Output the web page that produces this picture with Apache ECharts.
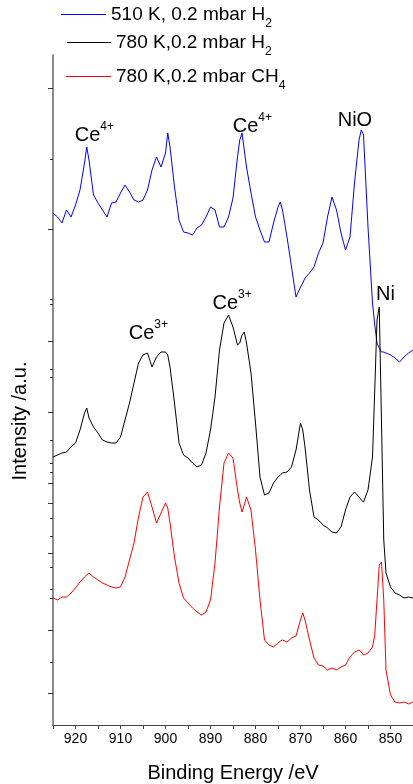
<!DOCTYPE html>
<html>
<head>
<meta charset="utf-8">
<title>XPS Ce 3d / Ni 2p</title>
<script src="https://cdn.jsdelivr.net/npm/echarts@6/dist/echarts.min.js"></script>
<style>
  html, body { margin: 0; padding: 0; background: #fff; }
  #chart { width: 413px; height: 784px; }
</style>
</head>
<body>
<div id="chart"></div>
<script>
  // binding energy /eV (shared by the three spectra)
  var energy = [925, 924, 923, 922, 921, 920, 919, 918, 917.5,
    917, 916, 915, 914, 913, 912, 911, 910, 909, 908, 907, 906, 905, 904, 903, 902, 901, 900, 899.5,
    899, 898, 897, 896, 895, 894, 893, 892, 891, 890, 889, 888, 887, 886, 885, 884, 883.5, 883, 882.5,
    882, 881, 880, 879, 878, 877, 876, 875, 874.5, 874, 873, 872, 871, 870, 869.5,
    869, 868, 867, 866, 865, 864, 863, 862, 861, 860, 859, 858, 857, 856.5, 856, 855, 854,
    853.5, 853, 852.5, 852, 851.5, 851, 850, 849, 848, 847, 846, 845]

  // intensity (a.u., already offset like in the figure)
  var blue510H2 = [512, 508, 502, 515, 508, 520, 535, 562, 578,
    565, 530, 522, 515, 508, 522, 523, 532, 540, 533, 525, 523, 525, 535, 555, 568, 558, 572, 592,
    578, 538, 505, 493, 492, 490, 497, 500, 508, 518, 515, 498, 498, 508, 527, 568, 585, 592, 575,
    558, 532, 508, 495, 483, 483, 502, 518, 523, 515, 488, 458, 428, 438, 442,
    447, 452, 458, 472, 482, 508, 528, 515, 492, 475, 488, 542, 585, 595, 590, 498, 422,
    400, 382, 377, 373, 373, 372, 370, 367, 363, 368, 372, 375]

  var black780H2 = [268, 270, 272, 273, 278, 282, 295, 312, 317,
    307, 298, 292, 285, 283, 282, 282, 288, 305, 322, 342, 362, 370, 372, 358, 368, 373, 373, 370,
    358, 322, 282, 270, 267, 262, 258, 260, 272, 295, 328, 375, 402, 410, 398, 380, 382, 390, 393,
    382, 352, 302, 248, 230, 232, 242, 248, 250, 252, 253, 258, 275, 302, 295,
    278, 235, 208, 205, 200, 197, 193, 192, 198, 215, 228, 233, 228, 225, 223, 235, 268,
    335, 405, 418, 302, 185, 152, 138, 132, 130, 127, 128, 127]

  var red780CH4 = [127, 125, 128, 128, 132, 137, 143, 148, 150,
    152, 148, 145, 142, 140, 138, 137, 138, 148, 165, 182, 208, 228, 233, 218, 202, 212, 222, 217,
    202, 168, 142, 127, 122, 117, 113, 110, 113, 125, 162, 218, 262, 272, 267, 235, 222, 213, 220,
    228, 215, 175, 125, 85, 80, 78, 82, 84, 85, 83, 87, 89, 105, 112,
    105, 85, 67, 60, 59, 55, 57, 55, 58, 60, 68, 73, 75, 73, 70, 72, 78,
    90, 125, 160, 163, 125, 55, 30, 23, 22, 23, 21, 23]

  var xLabels = [920, 910, 900, 890, 880, 870, 860, 850]
  // the left axis of the original is several stacked layers, ticks are irregular
  var yTicksLong = [637, 496, 384, 313, 242, 222, 172, 95, 32]
  var yTicksShort = [566, 426, 421, 356, 348, 285, 262, 253, 207, 189, 158, 136, 127, 63]

  // peak annotations
  var blueMarks = [['{b|Ce}{p|4+}', 915.8, 590], ['{b|Ce}{p|4+}', 880.7, 599], ['{b|NiO}', 857.9, 605]]
  var blackMarks = [['{b|Ce}{p|3+}', 903.8, 392], ['{b|Ce}{p|3+}', 885.2, 422], ['{b|Ni}', 851.1, 431]]

  var FONT = '"Liberation Sans", Arial, sans-serif'

  function pairs(ys) {
    return energy.map(function (e, i) { return [e, ys[i]] })
  }

  function marks(list) {
    return {
      symbol: 'circle',
      symbolSize: 1,
      itemStyle: {color: 'rgba(0,0,0,0)'},
      silent: true,
      label: {
        show: true, position: 'inside', color: '#000',
        rich: {
          b: {fontSize: 20, fontFamily: FONT, color: '#000'},
          p: {fontSize: 12, fontFamily: FONT, color: '#000', padding: [0, 0, 16, 0]}
        }
      },
      data: list.map(function (m) {
        return {coord: [m[1], m[2]], label: {formatter: m[0]}}
      })
    }
  }

  var legendRich = {
    t: {fontSize: 19, fontFamily: FONT, color: '#000'},
    s: {fontSize: 12, fontFamily: FONT, color: '#000', padding: [18, 0, 0, 0]}
  }

  function legend(name, text, left, top, w) {
    return {
      data: [{name: name, icon: 'rect'}], left: left, top: top, padding: 0,
      itemWidth: w, itemHeight: 1.2, itemGap: 0,
      selectedMode: false,
      formatter: function () { return text },
      textStyle: {rich: legendRich}
    }
  }

  var chart = echarts.init(document.getElementById('chart'))
  chart.setOption({
    animation: false,
    backgroundColor: '#fff',
    textStyle: {fontFamily: FONT},
    legend: [
      legend('510 K, 0.2 mbar H2', '{t|510 K, 0.2 mbar H}{s|2}', 61, 5, 45),
      legend('780 K,0.2 mbar H2', '{t|780 K,0.2 mbar H}{s|2}', 67, 33, 44),
      legend('780 K,0.2 mbar CH4', '{t|780 K,0.2 mbar CH}{s|4}', 66, 67, 45)
    ],
    grid: {left: 53, right: 0, top: 55, bottom: 59, outerBoundsMode: 'none'},
    xAxis: [{
      type: 'value', inverse: true, min: 845, max: 925, interval: 5,
      name: 'Binding Energy /eV', nameLocation: 'middle', nameGap: 38,
      nameTextStyle: {fontSize: 20, color: '#000', fontFamily: FONT},
      axisLine: {lineStyle: {color: '#444', width: 1}},
      axisTick: {show: true, length: 4, lineStyle: {color: '#444'}},
      axisLabel: {customValues: xLabels, fontSize: 14, color: '#000', margin: 7, fontFamily: FONT},
      splitLine: {show: false}
    }, {
      type: 'value', position: 'top', inverse: true, min: 845, max: 925,
      axisLine: {show: true, lineStyle: {color: '#444', width: 1}},
      axisTick: {show: false}, axisLabel: {show: false}, splitLine: {show: false}
    }],
    yAxis: [{
      type: 'value', min: 0, max: 670, position: 'left',
      name: 'Intensity /a.u.', nameLocation: 'middle', nameGap: 23,
      nameTextStyle: {fontSize: 20, color: '#000', fontFamily: FONT, padding: [0, 62, 0, 0]},
      axisLine: {show: true, lineStyle: {color: '#666', width: 1.5}},
      axisTick: {show: true, length: 5, customValues: yTicksLong, lineStyle: {color: '#333'}},
      axisLabel: {show: false},
      splitLine: {show: false}
    }, {
      type: 'value', min: 0, max: 670, position: 'left', offset: 0,
      axisLine: {show: false},
      axisTick: {show: true, length: 3, customValues: yTicksShort, lineStyle: {color: '#333'}},
      axisLabel: {show: false},
      splitLine: {show: false}
    }],
    series: [{
      name: '510 K, 0.2 mbar H2', type: 'line', symbol: 'none',
      lineStyle: {color: '#0000ff', width: 1}, itemStyle: {color: '#0000ff'},
      data: pairs(blue510H2), markPoint: marks(blueMarks)
    }, {
      name: '780 K,0.2 mbar H2', type: 'line', symbol: 'none',
      lineStyle: {color: '#000', width: 1}, itemStyle: {color: '#000'},
      data: pairs(black780H2), markPoint: marks(blackMarks)
    }, {
      name: '780 K,0.2 mbar CH4', type: 'line', symbol: 'none',
      lineStyle: {color: '#ff0000', width: 1}, itemStyle: {color: '#ff0000'},
      data: pairs(red780CH4)
    }]
  })
</script>
</body>
</html>
